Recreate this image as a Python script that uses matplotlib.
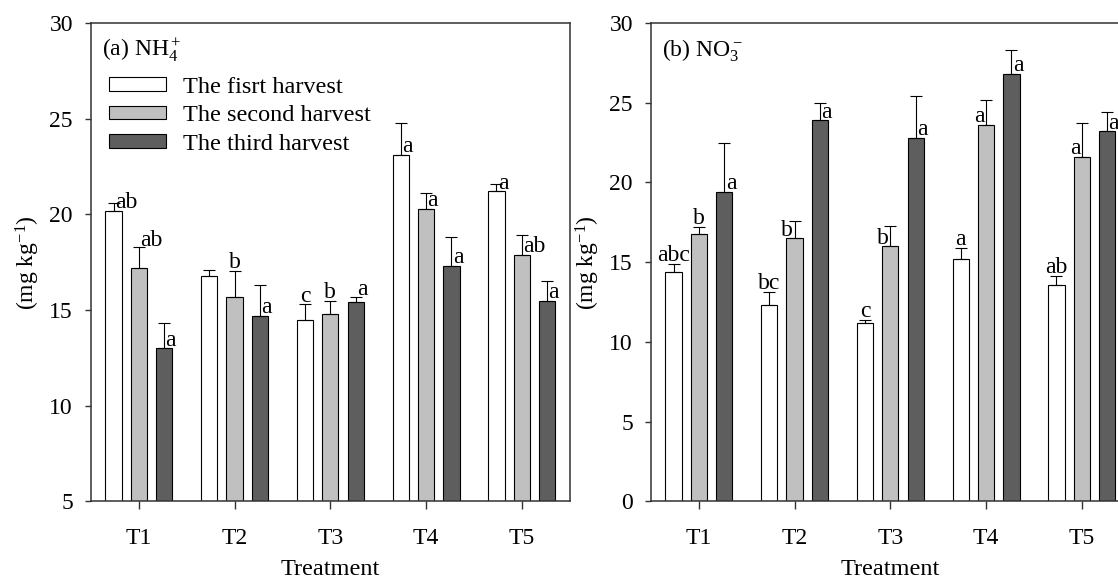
import numpy as np
import matplotlib
matplotlib.use('Agg')
import matplotlib.pyplot as plt

plt.rcParams['font.family'] = 'Liberation Serif'
plt.rcParams['mathtext.fontset'] = 'custom'
plt.rcParams['mathtext.rm'] = 'Liberation Serif'
plt.rcParams['mathtext.it'] = 'Liberation Serif:italic'
plt.rcParams['mathtext.default'] = 'regular'

treatments = ['T1', 'T2', 'T3', 'T4', 'T5']
harvests = ['The fisrt harvest', 'The second harvest', 'The third harvest']
colors = ['white', '#c0c0c0', '#5e5e5e']

# (a) NH4+ : rows = harvest, cols = treatment
nh4_mean = [[20.2, 16.8, 14.5, 23.1, 21.2],
            [17.2, 15.7, 14.8, 20.3, 17.9],
            [13.0, 14.7, 15.4, 17.3, 15.5]]
nh4_err = [[0.4, 0.3, 0.8, 1.7, 0.4],
           [1.1, 1.35, 0.7, 0.8, 1.0],
           [1.3, 1.6, 0.3, 1.5, 1.0]]
nh4_let = [['ab', '', 'c', 'a', 'a'],
           ['ab', 'b', 'b', 'a', 'ab'],
           ['a', 'a', 'a', 'a', 'a']]
nh4_pos = [['r', '', 'c', 'r', 'r'],
           ['e', 'c', 'c', 'r', 'r'],
           ['r', 'r', 'e', 'r', 'r']]

# (b) NO3-
no3_mean = [[14.4, 12.3, 11.2, 15.2, 13.6],
            [16.8, 16.5, 16.0, 23.6, 21.6],
            [19.4, 23.9, 22.8, 26.8, 23.2]]
no3_err = [[0.5, 0.85, 0.2, 0.7, 0.55],
           [0.4, 1.1, 1.3, 1.6, 2.1],
           [3.1, 1.1, 2.6, 1.5, 1.2]]
no3_let = [['abc', 'bc', 'c', 'a', 'ab'],
           ['b', 'b', 'b', 'a', 'a'],
           ['a', 'a', 'a', 'a', 'a']]
no3_pos = [['c', 'c', 'c', 'c', 'c'],
           ['c', 'l', 'l', 'l', 'l'],
           ['r', 'r', 'r', 'r', 'r']]

fs = 17
spc = '#333333'


def panel(ax, means, errs, letters, pos, ylo, title, legend):
    x = np.arange(len(treatments))
    for i in range(3):
        xi = x + (i - 1) * 0.265
        ax.bar(xi, means[i], width=0.17, color=colors[i], edgecolor='black',
               linewidth=0.8, label=harvests[i], zorder=2)
        ax.errorbar(xi, means[i], yerr=[np.zeros(len(x)), errs[i]], fmt='none',
                    ecolor='black', elinewidth=0.8, capsize=4, capthick=0.8, zorder=3)
        for j in range(len(x)):
            p = pos[i][j]
            if p == '':
                continue
            top = means[i][j] + errs[i][j]
            if p == 'c':
                xy, off, ha = (xi[j], top), (0, 2), 'center'
            elif p == 'e':
                xy, off, ha = (xi[j], top), (1, 1), 'left'
            elif p == 'l':
                xy, off, ha = (xi[j], means[i][j]), (-1, 2), 'right'
            else:
                xy, off, ha = (xi[j], means[i][j]), (1, 2), 'left'
            ax.annotate(letters[i][j], xy, xytext=off, textcoords='offset points',
                        ha=ha, va='baseline', fontsize=fs, zorder=4)
    ax.set_xlim(-0.5, 4.5)
    ax.set_ylim(ylo, 30)
    ax.set_yticks(np.arange(ylo, 31, 5))
    ax.set_xticks(x)
    ax.set_xticklabels(treatments)
    ax.tick_params(axis='y', direction='out', length=4, width=1, color=spc,
                   labelsize=fs, pad=9)
    ax.tick_params(axis='x', direction='out', length=6, width=1, color=spc,
                   labelsize=fs, pad=13)
    for s in ax.spines.values():
        s.set_color(spc)
        s.set_linewidth(1.1)
    ax.set_xlabel('Treatment', fontsize=17.5, labelpad=7)
    ax.set_ylabel('(mg kg$^{-1}$)', fontsize=fs, labelpad=5)
    ax.text(0.022, 0.942, title, transform=ax.transAxes, fontsize=fs,
            ha='left', va='center')
    if legend:
        ax.legend(loc='upper left', bbox_to_anchor=(0.037, 0.888), frameon=False,
                  fontsize=17.5, handlelength=2.35, handleheight=0.5,
                  handletextpad=0.7, labelspacing=0.31, borderpad=0,
                  borderaxespad=0)


fig = plt.figure(figsize=(11.18, 5.79), dpi=100)
ax1 = fig.add_axes([0.0814, 0.1339, 0.4281, 0.8264])
ax2 = fig.add_axes([0.5823, 0.1339, 0.4281, 0.8264])

panel(ax1, nh4_mean, nh4_err, nh4_let, nh4_pos, 5, '(a) NH$_4^+$', True)
panel(ax2, no3_mean, no3_err, no3_let, no3_pos, 0, '(b) NO$_3^-$', False)

fig.savefig('out.png', dpi=100)
